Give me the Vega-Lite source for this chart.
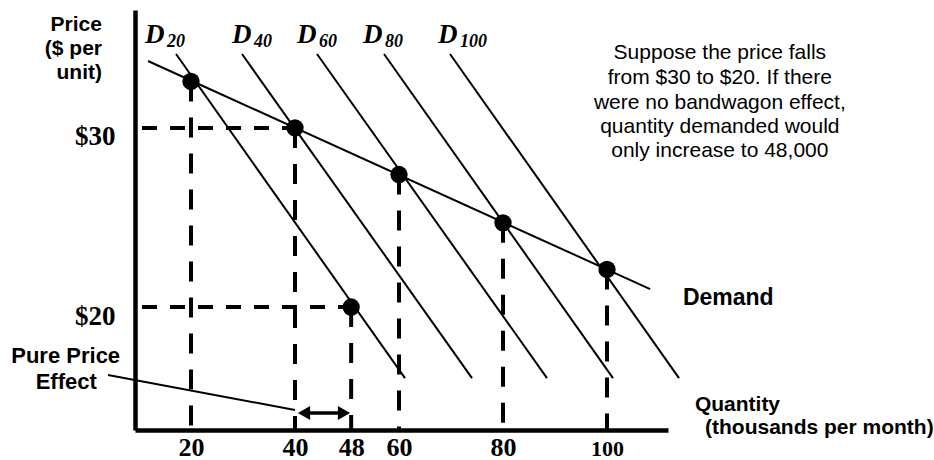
{
  "$schema": "https://vega.github.io/schema/vega-lite/v6.json",
  "width": 533,
  "height": 420,
  "autosize": {"type": "none"},
  "padding": {"left": 135, "top": 10, "right": 266, "bottom": 30},
  "background": "white",
  "config": {"view": {"stroke": null}},
  "datasets": {
    "hdash": [
      {"q": 10.58, "q2": 40, "p": 30},
      {"q": 10.58, "q2": 50.8, "p": 20}
    ],
    "vdash": [
      {"q": 20, "p": 32.6, "p2": 13.13},
      {"q": 40, "p": 30, "p2": 13.13},
      {"q": 50.8, "p": 20, "p2": 13.13},
      {"q": 60, "p": 27.4, "p2": 13.13},
      {"q": 80, "p": 24.7, "p2": 13.13},
      {"q": 100, "p": 22.1, "p2": 13.13}
    ],
    "curves": [
      {"name": "D20", "q": 17.12, "p": 34.13, "q2": 61.15, "p2": 16.03},
      {"name": "D40", "q": 29.81, "p": 34.13, "q2": 74.04, "p2": 16.03},
      {"name": "D60", "q": 44.23, "p": 34.13, "q2": 88.46, "p2": 16.03},
      {"name": "D80", "q": 57.12, "p": 34.13, "q2": 101.15, "p2": 16.03},
      {"name": "D100", "q": 69.81, "p": 34.13, "q2": 113.85, "p2": 16.03},
      {"name": "Demand", "q": 11.73, "p": 33.74, "q2": 108.3, "p2": 21.0},
      {"name": "pointer", "q": 4.04, "p": 16.2, "q2": 40.0, "p2": 14.25}
    ],
    "dots": [
      {"q": 20, "p": 32.6},
      {"q": 40, "p": 30},
      {"q": 60, "p": 27.4},
      {"q": 80, "p": 24.7},
      {"q": 100, "p": 22.1},
      {"q": 50.8, "p": 20}
    ],
    "shaft": [{"q": 42.2, "q2": 49.0, "p": 14.08}],
    "heads": [
      {"q": 41.73, "p": 14.08, "dir": "left"},
      {"q": 49.42, "p": 14.08, "dir": "right"}
    ],
    "dlabels": [
      {"q": 11.15, "p": 34.75, "sub": "20"},
      {"q": 27.88, "p": 34.75, "sub": "40"},
      {"q": 40.38, "p": 34.75, "sub": "60"},
      {"q": 53.08, "p": 34.75, "sub": "80"},
      {"q": 67.5, "p": 34.75, "sub": "100"}
    ],
    "texts": [
      {"kind": "right", "q": 2.88, "p": 35.75, "text": "Price"},
      {"kind": "right", "q": 2.88, "p": 34.41, "text": "($ per"},
      {"kind": "right", "q": 2.88, "p": 33.07, "text": "unit)"},
      {"kind": "center", "q": -4.1, "p": 17.26, "text": "Pure Price"},
      {"kind": "center", "q": -4.0, "p": 15.81, "text": "Effect"},
      {"kind": "big", "q": 114.6, "p": 20.5, "text": "Demand"},
      {"kind": "left", "q": 116.9, "p": 14.53, "text": "Quantity"},
      {"kind": "left", "q": 118.85, "p": 13.24, "text": "(thousands per month)"},
      {"kind": "note", "q": 121.7, "p": 34.19, "text": "Suppose the price falls"},
      {"kind": "note", "q": 121.7, "p": 32.79, "text": "from $30 to $20. If there"},
      {"kind": "note", "q": 121.7, "p": 31.4, "text": "were no bandwagon effect,"},
      {"kind": "note", "q": 121.7, "p": 30.06, "text": "quantity demanded would"},
      {"kind": "note", "q": 121.7, "p": 28.72, "text": "only increase to 48,000"}
    ]
  },
  "encoding": {
    "x": {
      "field": "q",
      "type": "quantitative",
      "scale": {"domain": [9.23, 111.73], "zero": false, "nice": false},
      "axis": {
        "title": null,
        "grid": false,
        "ticks": false,
        "domainColor": "black",
        "domainWidth": 4.5,
        "values": [20, 40, 50.8, 60, 80, 100],
        "labelExpr": "datum.value == 50.8 ? '48' : format(datum.value, 'd')",
        "labelFont": "Liberation Serif",
        "labelFontWeight": "bold",
        "labelFontSize": {"condition": {"test": "datum.value == 100", "value": 22}, "value": 26},
        "labelColor": "black",
        "labelBaseline": "alphabetic",
        "labelPadding": 25,
        "labelFlush": false,
        "labelOverlap": false
      }
    },
    "y": {
      "field": "p",
      "type": "quantitative",
      "scale": {"domain": [13.13, 36.59], "zero": false, "nice": false},
      "axis": {
        "title": null,
        "grid": false,
        "ticks": false,
        "domainColor": "black",
        "domainWidth": 4.5,
        "values": [20, 30],
        "labelExpr": "'$' + datum.value",
        "labelFont": "Liberation Serif",
        "labelFontWeight": "bold",
        "labelFontSize": 27,
        "labelColor": "black",
        "labelBaseline": "alphabetic",
        "labelPadding": 20,
        "labelOffset": 17,
        "labelFlush": false,
        "labelOverlap": false
      }
    }
  },
  "layer": [
    {
      "data": {"name": "hdash"},
      "mark": {"type": "rule", "color": "black", "strokeWidth": 4, "strokeDash": [15, 13]},
      "encoding": {"x2": {"field": "q2"}}
    },
    {
      "data": {"name": "vdash"},
      "mark": {"type": "rule", "color": "black", "strokeWidth": 4, "strokeDash": [20, 16]},
      "encoding": {"y2": {"field": "p2"}}
    },
    {
      "data": {"name": "curves"},
      "mark": {"type": "rule", "color": "black", "strokeWidth": 2},
      "encoding": {"x2": {"field": "q2"}, "y2": {"field": "p2"}}
    },
    {
      "data": {"name": "dots"},
      "mark": {"type": "point", "filled": true, "color": "black", "opacity": 1, "size": 300, "shape": "circle"},
      "encoding": {}
    },
    {
      "data": {"name": "shaft"},
      "mark": {"type": "rule", "color": "black", "strokeWidth": 3.5},
      "encoding": {"x2": {"field": "q2"}}
    },
    {
      "data": {"name": "heads"},
      "mark": {"type": "point", "filled": true, "color": "black", "opacity": 1, "size": 200},
      "encoding": {
        "shape": {
          "field": "dir",
          "type": "nominal",
          "scale": {"domain": ["left", "right"], "range": ["triangle-left", "triangle-right"]},
          "legend": null
        }
      }
    },
    {
      "data": {"name": "dlabels"},
      "mark": {"type": "text", "text": "D", "align": "left", "baseline": "alphabetic", "font": "Liberation Serif", "fontWeight": "bold", "fontStyle": "italic", "fontSize": 27, "color": "black"},
      "encoding": {}
    },
    {
      "data": {"name": "dlabels"},
      "mark": {"type": "text", "align": "left", "baseline": "alphabetic", "dx": 22, "dy": 4, "font": "Liberation Serif", "fontWeight": "bold", "fontStyle": "italic", "fontSize": 18, "color": "black"},
      "encoding": {"text": {"field": "sub"}}
    },
    {
      "data": {"name": "texts"},
      "transform": [{"filter": "datum.kind == 'right'"}],
      "mark": {"type": "text", "align": "right", "baseline": "middle", "font": "Liberation Sans", "fontWeight": "bold", "fontSize": 21, "color": "black"},
      "encoding": {"text": {"field": "text"}}
    },
    {
      "data": {"name": "texts"},
      "transform": [{"filter": "datum.kind == 'center'"}],
      "mark": {"type": "text", "align": "center", "baseline": "middle", "font": "Liberation Sans", "fontWeight": "bold", "fontSize": 22, "color": "black"},
      "encoding": {"text": {"field": "text"}}
    },
    {
      "data": {"name": "texts"},
      "transform": [{"filter": "datum.kind == 'big'"}],
      "mark": {"type": "text", "align": "left", "baseline": "middle", "font": "Liberation Sans", "fontWeight": "bold", "fontSize": 23, "color": "black"},
      "encoding": {"text": {"field": "text"}}
    },
    {
      "data": {"name": "texts"},
      "transform": [{"filter": "datum.kind == 'left'"}],
      "mark": {"type": "text", "align": "left", "baseline": "middle", "font": "Liberation Sans", "fontWeight": "bold", "fontSize": 21, "color": "black"},
      "encoding": {"text": {"field": "text"}}
    },
    {
      "data": {"name": "texts"},
      "transform": [{"filter": "datum.kind == 'note'"}],
      "mark": {"type": "text", "align": "center", "baseline": "middle", "font": "Liberation Sans", "fontWeight": "normal", "fontSize": 21, "color": "black"},
      "encoding": {"text": {"field": "text"}}
    }
  ]
}
